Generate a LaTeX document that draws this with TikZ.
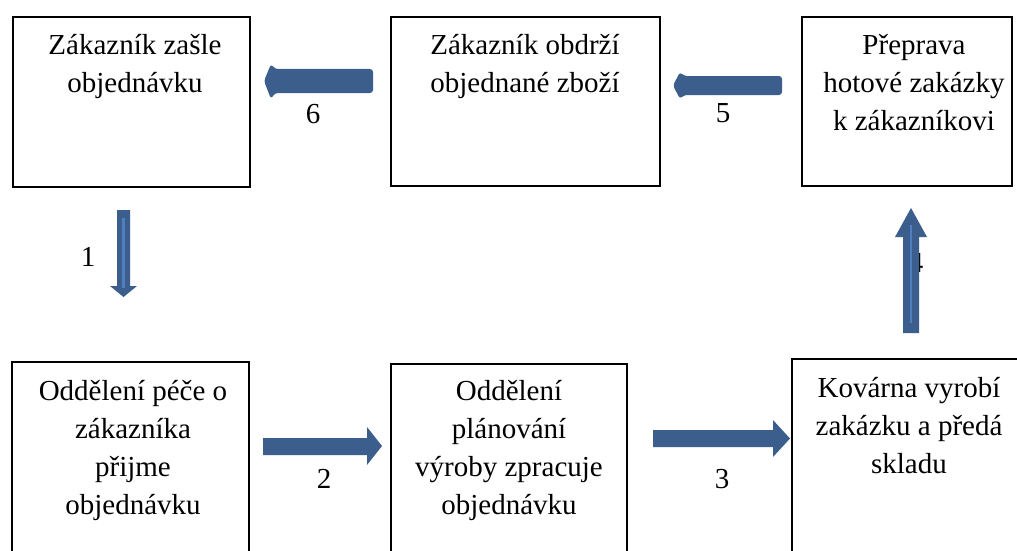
\documentclass[tikz,border=0pt]{standalone}
\usepackage{fontspec}
\setmainfont{Liberation Serif}
\usetikzlibrary{calc}
\definecolor{arrowblue}{RGB}{59,94,140}
\definecolor{stripeblue}{RGB}{79,127,190}
\newcommand{\boxtext}[1]{\begin{tabular}[t]{@{}c@{}}#1\end{tabular}}
\begin{document}
\begin{tikzpicture}[x=1pt,y=-1pt,
  procbox/.style={draw=black,line width=1.4pt,fill=white,inner sep=0pt,outer sep=0pt,anchor=north west},
  boxlabel/.style={anchor=base,inner sep=0pt,font=\fontsize{29}{38}\selectfont},
  numlabel/.style={anchor=base,inner sep=0pt,font=\fontsize{29}{38}\selectfont},
  blockarrow/.style={fill=arrowblue,draw=none},
  stripe/.style={draw=stripeblue,line width=2.6pt}]
\useasboundingbox (0,0) rectangle (1017,551);
\clip (0,0) rectangle (1017,551);
\fill[white] (0,0) rectangle (1017,551);
% boxes
\node[procbox,minimum width=237pt,minimum height=170pt] (b1) at (13,17) {};
\node[procbox,minimum width=269pt,minimum height=169pt] (b2) at (391,17) {};
\node[procbox,minimum width=210pt,minimum height=169pt] (b3) at (802,17) {};
\node[procbox,minimum width=237pt,minimum height=213pt] (b4) at (12,362) {};
\node[procbox,minimum width=236pt,minimum height=211pt] (b5) at (391,364) {};
\node[procbox,minimum width=238pt,minimum height=216pt] (b6) at (792,359) {};
% texts
\node[boxlabel] (t1) at ($(b1.north west)+(122,38)$) {\boxtext{Zákazník zašle\\objednávku}};
\node[boxlabel] (t2) at ($(b2.north west)+(134,38)$) {\boxtext{Zákazník obdrží\\objednané zboží}};
\node[boxlabel] (t3) at ($(b3.north west)+(112,38)$) {\boxtext{Přeprava\\hotové zakázky\\k zákazníkovi}};
\node[boxlabel] (t4) at ($(b4.north west)+(121,38)$) {\boxtext{Oddělení péče o\\zákazníka\\přijme\\objednávku}};
\node[boxlabel] (t5) at ($(b5.north west)+(118,36)$) {\boxtext{Oddělení\\plánování\\výroby zpracuje\\objednávku}};
\node[boxlabel] (t6) at ($(b6.north west)+(117,38)$) {\boxtext{Kovárna vyrobí\\zakázku a předá\\skladu}};
% number labels
\node[numlabel] (n1) at (88,266) {1};
\node[numlabel] (n2) at (324,488) {2};
\node[numlabel] (n3) at (722,488) {3};
\node[numlabel] (n4) at (916,272) {4};
\node[numlabel] (n5) at (723,122) {5};
\node[numlabel] (n6) at (313,123) {6};
% arrow 6 (left, rounded)
\fill[blockarrow,rounded corners=3pt] (264,81) -- (271,64) -- (275,69) -- (373,69) -- (373,93) -- (275,93) -- (271,99) -- cycle;
% arrow 5 (left, rounded)
\fill[blockarrow,rounded corners=3pt] (673,85.5) -- (680,72) -- (684,76) -- (782,76) -- (782,95) -- (684,95) -- (680,99) -- cycle;
% arrow 2 (right)
\fill[blockarrow] (263,438) -- (367,438) -- (367,427) -- (382,446) -- (367,465) -- (367,455) -- (263,455) -- cycle;
% arrow 3 (right)
\fill[blockarrow] (653,430) -- (773,430) -- (773,420) -- (790,438.5) -- (773,457) -- (773,447) -- (653,447) -- cycle;
% arrow 1 (down)
\fill[blockarrow] (117,210) -- (130,210) -- (130,286) -- (137,286) -- (123.5,297) -- (110,286) -- (117,286) -- cycle;
\draw[stripe] (123.5,218) -- (123.5,288);
% arrow 4 (up)
\fill[blockarrow] (903,333) -- (919,333) -- (919,237) -- (927,237) -- (911,208) -- (895,237) -- (903,237) -- cycle;
\draw[stripe] (911,225) -- (911,323);
\end{tikzpicture}
\end{document}
